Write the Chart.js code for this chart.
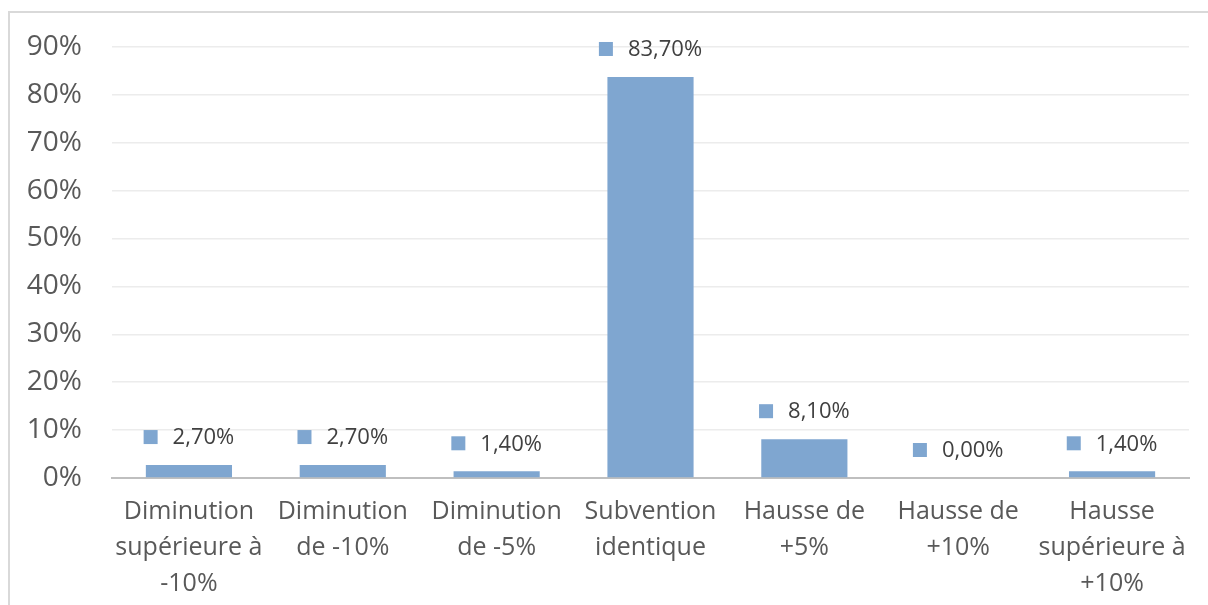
<!DOCTYPE html>
<html>
<head>
<meta charset="utf-8">
<script src="https://cdn.jsdelivr.net/npm/chart.js@4"></script>
<style>
  html, body { margin: 0; padding: 0; background: #fff; }
  #wrap { position: relative; width: 1208px; height: 605px; overflow: hidden; }
  #frame { position: absolute; left: 8px; top: 11px; right: -5px; bottom: -5px;
           border-left: 2px solid #d9d9d9; border-top: 2px solid #d9d9d9; }
  canvas { position: absolute; left: 0; top: 0; }
</style>
</head>
<body>
<div id="wrap">
  <div id="frame"></div>
  <canvas id="barChart" width="1208" height="605"></canvas>
</div>
<script>
// categories (multi-line labels as in the original)
const categories = [
  ["Diminution", "supérieure à", "-10%"],
  ["Diminution", "de -10%"],
  ["Diminution", "de -5%"],
  ["Subvention", "identique"],
  ["Hausse de", "+5%"],
  ["Hausse de", "+10%"],
  ["Hausse", "supérieure à", "+10%"]
];
const values = [2.7, 2.7, 1.4, 83.7, 8.1, 0.0, 1.4];
const yTicks = [0, 10, 20, 30, 40, 50, 60, 70, 80, 90];

const barColor = "#7FA6D0";
Chart.defaults.font.family = "'Open Sans', sans-serif";
Chart.defaults.color = "#595959";

// data labels: small square + value, centred above each bar
const valueLabels = {
  id: "valueLabels",
  afterDatasetsDraw(chart) {
    const ctx = chart.ctx;
    const meta = chart.getDatasetMeta(0);
    ctx.save();
    ctx.font = "22px 'Open Sans', sans-serif";
    ctx.textBaseline = "middle";
    ctx.textAlign = "left";
    meta.data.forEach((bar, i) => {
      const txt = values[i].toFixed(2).replace(".", ",") + "%";
      const tw = ctx.measureText(txt).width;
      const sq = 14, gap = 15;
      const total = sq + gap + tw;
      const x0 = bar.x - total / 2;
      const cy = bar.y - 28;
      ctx.fillStyle = barColor;
      ctx.fillRect(x0, cy - sq / 2, sq, sq);
      ctx.fillStyle = "#404040";
      ctx.fillText(txt, x0 + sq + gap, cy + 1);
    });
    ctx.restore();
  }
};

var isBarChart = document.getElementById("barChart");
var barChart = new Chart(isBarChart, {
  type: "bar",
  data: {
    labels: categories,
    datasets: [
      {
        label: "Réponses",
        data: values,
        backgroundColor: barColor,
        borderWidth: 0,
        barPercentage: 0.56,
        categoryPercentage: 1.0,
      },
    ],
  },
  options: {
    responsive: false,
    animation: false,
    devicePixelRatio: 1,
    layout: { padding: { top: 42, right: 19, bottom: 0, left: 0 } },
    plugins: { legend: { display: false }, tooltip: { enabled: false } },
    scales: {
      x: {
        grid: { display: false, drawTicks: false, tickLength: 0 },
        border: { display: true, color: "#bfbfbf", width: 2 },
        ticks: {
          padding: 16,
          maxRotation: 0,
          autoSkip: false,
          font: { size: 25, lineHeight: 1.44 },
          color: "#595959",
        },
        afterFit(scale) { scale.height = 127; },
      },
      y: {
        min: 0,
        max: 90,
        afterBuildTicks(scale) { scale.ticks = yTicks.map(v => ({ value: v })); },
        grid: { color: "#ececec", lineWidth: 1.5, drawTicks: false, tickLength: 0 },
        border: { display: false },
        ticks: {
          padding: 30,
          font: { size: 28 },
          color: "#595959",
          callback: (v) => v + "%",
        },
        afterFit(scale) { scale.width = 112; },
      },
    },
  },
  plugins: [valueLabels],
});
</script>
</body>
</html>
